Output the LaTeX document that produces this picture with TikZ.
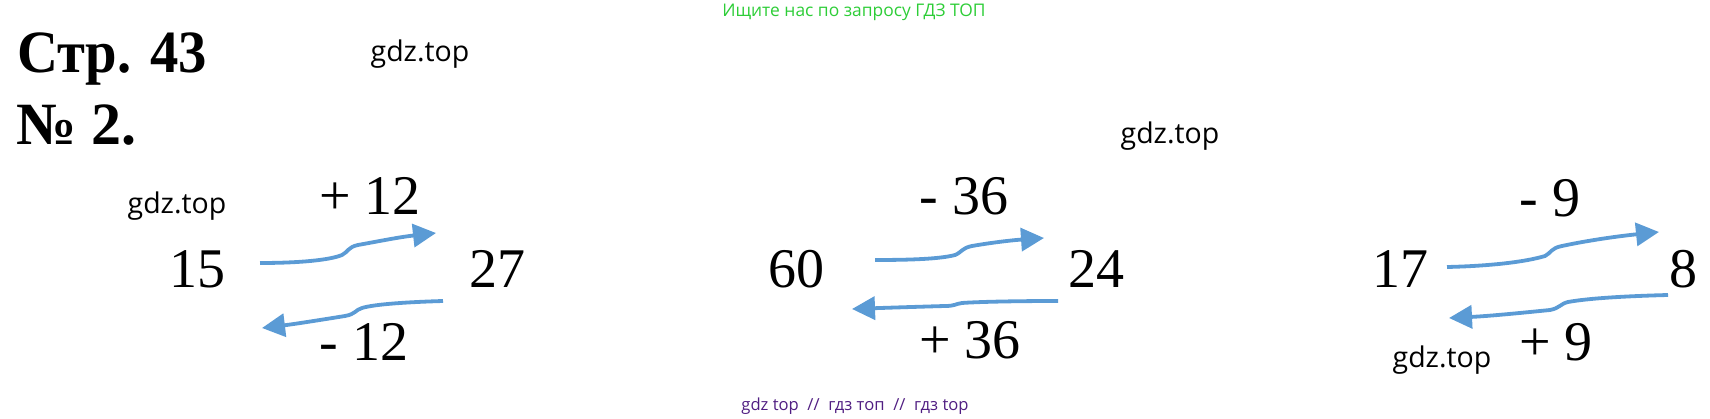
\documentclass[tikz,border=0pt]{standalone}
\usepackage{fontspec}
\usepackage{graphicx}
\setmainfont{Liberation Serif}
\newfontfamily\labelsans{Open Sans}
\usetikzlibrary{arrows.meta}
\definecolor{arrowblue}{RGB}{91,155,213}
\definecolor{adgreen}{RGB}{45,205,55}
\definecolor{adpurple}{RGB}{80,30,130}
\tikzset{
  num/.style={anchor=base, inner sep=0pt, font=\fontsize{56}{60}\selectfont},
  head/.style={anchor=base west, inner sep=0pt, font=\fontsize{60}{64}\selectfont\bfseries},
  wm/.style={anchor=base, inner sep=0pt, font=\labelsans\fontsize{28.5}{30}\selectfont},
  conn/.style={draw=arrowblue, line width=3.8pt, -{Triangle[length=23pt,width=23pt]}},
}
\begin{document}
\begin{tikzpicture}[x=1pt,y=-1pt]
\useasboundingbox (0,0) rectangle (1710,419);
% header texts
\node[anchor=base, inner sep=0pt, text=adgreen, font=\labelsans\fontsize{17.4}{19}\selectfont] (ad) at (854,17) {Ищите нас по запросу ГДЗ ТОП};
\node[anchor=base, inner sep=0pt, text=adpurple, font=\labelsans\fontsize{16.6}{18}\selectfont] (foot) at (855,410) {gdz top\ \ //\ \ гдз топ\ \ //\ \ гдз top};
\node[head] (page) at (17,73) {\scalebox{0.945}[1]{Стр. 43}};
\node[head] (task) at (16,145) {№ 2.};
% watermarks
\node[wm] (w1) at (420,62) {gdz.top};
\node[wm] (w2) at (1170,144) {gdz.top};
\node[wm] (w3) at (177,214) {gdz.top};
\node[wm] (w4) at (1442,367) {gdz.top};
% group 1
\node[num] (a1) at (197,288) {15};
\node[num] (b1) at (497,288) {27};
\node[num] (p1) at (370,215) {+ 12};
\node[num] (m1) at (364,360) {- 12};
% group 2
\node[num] (a2) at (796,288) {60};
\node[num] (b2) at (1096,288) {24};
\node[num] (p2) at (964,215) {- 36};
\node[num] (m2) at (970,359) {+ 36};
% group 3
\node[num] (a3) at (1400,288) {17};
\node[num] (b3) at (1683,288) {8};
\node[num] (p3) at (1550,217) {- 9};
\node[num] (m3) at (1556,360) {+ 9};
% arrow end points
\coordinate (s1) at (260,263); \coordinate (e1) at (436,233);
\coordinate (s1b) at (443,301); \coordinate (e1b) at (262,328);
\coordinate (s2) at (875,260); \coordinate (e2) at (1044,238);
\coordinate (s2b) at (1058,301); \coordinate (e2b) at (852,309);
\coordinate (s3) at (1447,267); \coordinate (e3) at (1659,232);
\coordinate (s3b) at (1668,295); \coordinate (e3b) at (1449,318);
% arrows
\draw[conn] (s1) .. controls (300,263) and (330,260) .. (342,255) .. controls (348,252) and (348,247) .. (358,245) .. controls (380,241) and (400,237) .. (e1);
\draw[conn] (s1b) .. controls (410,302) and (375,304) .. (362,308) .. controls (355,310) and (356,314) .. (345,316) .. controls (320,320) and (295,324) .. (e1b);
\draw[conn] (s2) .. controls (910,260) and (940,259) .. (955,255) .. controls (962,252) and (962,248) .. (972,246) .. controls (995,242) and (1015,240) .. (e2);
\draw[conn] (s2b) .. controls (1010,301) and (975,302) .. (962,303) .. controls (955,304) and (955,306) .. (945,306) .. controls (910,307) and (880,308) .. (e2b);
\draw[conn] (s3) .. controls (1490,266) and (1525,262) .. (1545,256) .. controls (1551,253) and (1551,248) .. (1562,246) .. controls (1590,240) and (1620,236) .. (e3);
\draw[conn] (s3b) .. controls (1630,296) and (1590,298) .. (1568,302) .. controls (1560,304) and (1560,308) .. (1550,310) .. controls (1520,313) and (1490,316) .. (e3b);
\end{tikzpicture}
\end{document}
